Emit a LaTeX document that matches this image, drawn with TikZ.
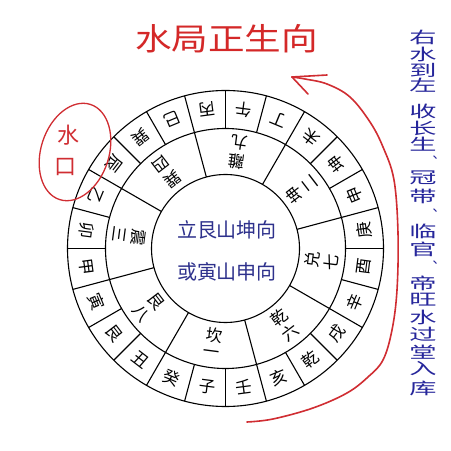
\documentclass[tikz,border=0pt]{standalone}
\usepackage{fontspec}
\newfontfamily\cjk{Noto Sans CJK SC}
\newfontfamily\cjktc{Noto Sans CJK TC}
\definecolor{ttlred}{RGB}{212,40,40}
\definecolor{pen}{RGB}{208,45,50}
\definecolor{navy}{RGB}{46,49,140}
\definecolor{blu}{RGB}{38,38,155}
\begin{document}
\begin{tikzpicture}[x=1pt,y=1pt,
  ringline/.style={line width=1.1pt, black},
  mountain/.style={font=\cjk\fontsize{16.5}{16.5}\selectfont, inner sep=0pt},
  trigram/.style={font=\cjk\fontsize{16.5}{16.5}\selectfont, inner sep=0pt},
  centertext/.style={font=\cjk\fontsize{20}{20}\selectfont, text=navy, inner sep=0pt},
  vtext/.style={font=\cjk\fontsize{16}{16}\selectfont, text=blu, xscale=1.7, inner sep=0pt},
  vpunct/.style={font=\cjktc\fontsize{13}{13}\selectfont, text=blu, inner sep=0pt},
  hand/.style={font=\cjk\fontsize{22}{22}\selectfont, text=pen, inner sep=0pt},
  redpen/.style={pen, line width=1.6pt, line cap=round, line join=round}]
\useasboundingbox (0,0) rectangle (451,451);
\fill[white] (0,0) rectangle (451,451);

% title
\node[font=\cjk\fontsize{31}{31}\selectfont, text=ttlred, xscale=1.18, inner sep=0pt] (title) at (226.5,412) {水局正生向};

% compass
\begin{scope}[shift={(225.5,202.5)}]
  \draw[ringline] (0,0) circle (158) (0,0) circle (120) (0,0) circle (74);
  \foreach \a in {0,15,...,345} \draw[ringline] (\a:120) -- (\a:158);
  \foreach \a in {105,60,15,-30,-75,-120,-165,150} \draw[ringline] (\a:74) -- (\a:120);
  \foreach \n [count=\i from 0] in {午,丁,未,坤,申,庚,酉,辛,戌,乾,亥,壬,子,癸,丑,艮,寅,甲,卯,乙,辰,巽,巳,丙} {
    \pgfmathsetmacro\ang{82.5-15*\i}
    \node[mountain, rotate=\ang+90] (m\i) at (\ang:140) {\n};
  }
  \foreach \n/\m [count=\i from 0] in {離/九,坤/二,兑/七,乾/六,坎/一,艮/八,震/三,巽/四} {
    \pgfmathsetmacro\ang{82.5-45*\i}
    \node[trigram, rotate=\ang+90] (ta\i) at (\ang:87.5) {\n};
    \node[trigram, rotate=\ang+90] (tb\i) at (\ang:106.5) {\m};
  }
  \node[centertext] (c1) at (1.5,18.5) {立艮山坤向};
  \node[centertext] (c2) at (1.5,-23.5) {或寅山申向};
\end{scope}

% right vertical text
\foreach \c/\y [count=\k] in {右/414,水/397,到/381,左/366,收/340,长/323,生/307,冠/273,带/255,临/220,官/202,帝/168,旺/151,水/134,过/117,堂/99,入/82,库/63}
  \node[vtext] (v\k) at (423,\y) {\c};
\foreach \y [count=\k] in {292,239,187}
  \node[vpunct] (p\k) at (435,\y) {、};

% red hand annotation
\node[hand] (sk1) at (68,316) {水};
\node[hand] (sk2) at (66,284) {口};
\draw[pen, line width=1.3pt, rotate around={-18:(75,299)}] (75,299) ellipse (34 and 50);

% red arrow
\coordinate (tip) at (292,374);
\coordinate (barbA) at (327,376);
\coordinate (barbB) at (308,357);
\draw[redpen] plot[smooth, tension=0.6] coordinates {(247,29) (273,32) (313,43) (347,58) (368,74) (383,91) (392,121) (397,161) (398,218) (394,271) (383,304) (370,329) (350,354) (327,367) (305,372) (292,374)};
\draw[redpen] (tip) -- (barbA);
\draw[redpen] (tip) -- (barbB);
\end{tikzpicture}
\end{document}
